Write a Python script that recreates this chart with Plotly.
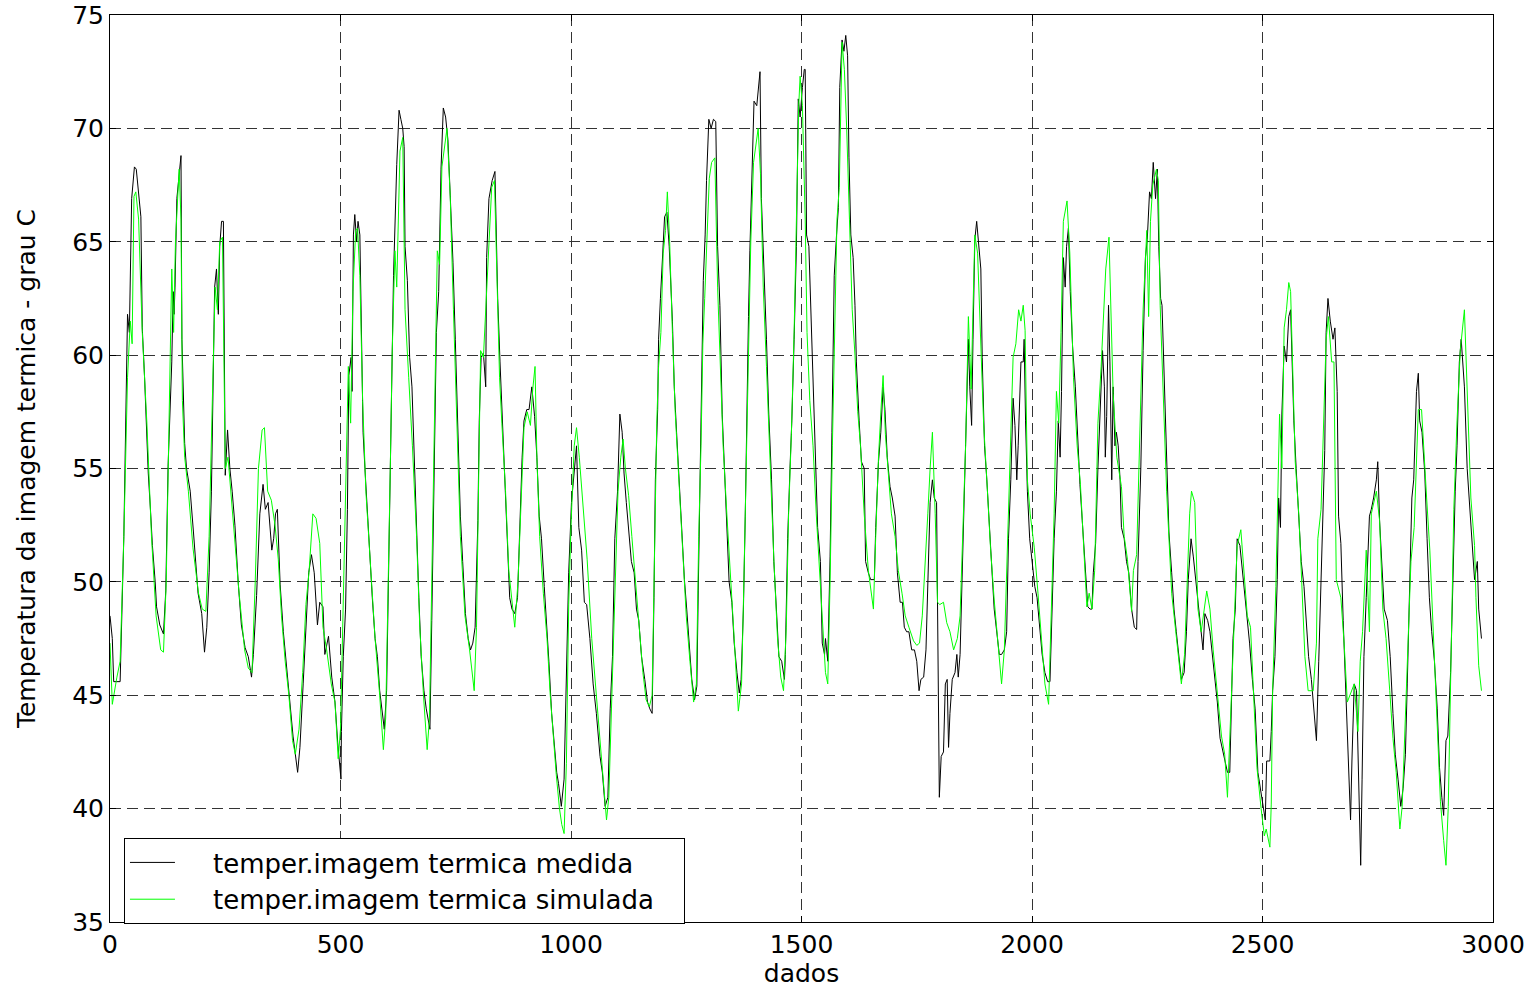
import plotly.graph_objects as go

# Values (sample index, temperature in grau C)
x_medida = [
    0, 5, 8, 22, 30, 35, 38, 42, 47, 53, 57, 67, 70, 75, 83, 88, 92, 98, 101, 108, 116, 121, 126, 134, 137, 139,
    141, 145, 149, 154, 156, 159, 162, 166, 174, 181, 186, 191, 199, 205, 210, 215, 220, 224, 227, 231, 235, 238,
    242, 246, 250, 255, 260, 265, 271, 278, 285, 293, 300, 307, 311, 318, 325, 332, 337, 343, 351, 355, 359, 363,
    369, 376, 383, 390, 397, 407, 412, 419, 427, 431, 437, 443, 450, 455, 462, 466, 474, 481, 488, 494, 501, 502,
    506, 511, 515, 518, 523, 525, 528, 531, 535, 538, 542, 546, 549, 553, 560, 564, 569, 575, 580, 585, 589, 595,
    600, 604, 607, 611, 615, 622, 627, 631, 635, 638, 640, 645, 650, 655, 659, 664, 670, 675, 681, 686, 694, 698,
    703, 708, 713, 718, 723, 728, 733, 739, 744, 749, 755, 760, 765, 771, 777, 782, 787, 792, 798, 801, 805, 810,
    815, 817, 822, 829, 835, 841, 846, 851, 857, 862, 867, 872, 878, 884, 889, 894, 898, 904, 909, 915, 921, 926,
    931, 936, 942, 947, 952, 958, 963, 969, 973, 979, 985, 990, 995, 1001, 1007, 1012, 1017, 1023, 1029, 1034,
    1041, 1048, 1055, 1063, 1068, 1074, 1080, 1085, 1090, 1095, 1101, 1106, 1111, 1115, 1120, 1125, 1131, 1137,
    1142, 1147, 1153, 1160, 1166, 1171, 1176, 1180, 1183, 1188, 1190, 1194, 1199, 1203, 1208, 1213, 1220, 1224,
    1229, 1234, 1240, 1246, 1251, 1256, 1262, 1268, 1273, 1276, 1280, 1283, 1287, 1291, 1294, 1299, 1304, 1309,
    1314, 1318, 1323, 1328, 1333, 1338, 1343, 1349, 1354, 1360, 1365, 1369, 1374, 1378, 1381, 1385, 1388, 1393,
    1397, 1403, 1406, 1410, 1413, 1419, 1424, 1429, 1435, 1440, 1446, 1451, 1457, 1463, 1465, 1470, 1475, 1479,
    1484, 1489, 1493, 1497, 1502, 1506, 1508, 1511, 1516, 1521, 1526, 1531, 1535, 1541, 1545, 1550, 1552, 1557,
    1562, 1566, 1571, 1576, 1580, 1583, 1588, 1592, 1596, 1600, 1603, 1607, 1612, 1616, 1619, 1625, 1630, 1636,
    1639, 1645, 1650, 1658, 1661, 1667, 1672, 1677, 1681, 1686, 1692, 1697, 1703, 1708, 1714, 1719, 1723, 1728,
    1733, 1739, 1745, 1750, 1755, 1759, 1765, 1770, 1774, 1779, 1784, 1788, 1793, 1797, 1799, 1803, 1808, 1812,
    1816, 1819, 1822, 1827, 1833, 1837, 1840, 1844, 1847, 1853, 1858, 1862, 1865, 1869, 1872, 1876, 1880, 1885,
    1889, 1892, 1897, 1902, 1907, 1912, 1918, 1923, 1929, 1934, 1940, 1945, 1949, 1954, 1959, 1963, 1967, 1970,
    1976, 1981, 1983, 1986, 1990, 1995, 2000, 2006, 2011, 2017, 2022, 2028, 2034, 2039, 2043, 2048, 2053, 2057,
    2061, 2064, 2068, 2072, 2075, 2079, 2083, 2088, 2094, 2099, 2104, 2109, 2115, 2121, 2126, 2130, 2133, 2138,
    2143, 2148, 2153, 2157, 2159, 2162, 2166, 2169, 2173, 2176, 2180, 2183, 2187, 2191, 2194, 2200, 2205, 2210,
    2216, 2222, 2227, 2230, 2236, 2241, 2246, 2250, 2255, 2259, 2263, 2268, 2272, 2275, 2279, 2282, 2287, 2292,
    2297, 2303, 2308, 2313, 2319, 2324, 2330, 2335, 2339, 2345, 2350, 2355, 2360, 2366, 2371, 2375, 2381, 2386,
    2391, 2397, 2402, 2408, 2413, 2418, 2424, 2429, 2433, 2436, 2441, 2445, 2451, 2456, 2462, 2467, 2472, 2478,
    2484, 2490, 2496, 2501, 2506, 2509, 2516, 2519, 2522, 2527, 2532, 2535, 2539, 2542, 2547, 2552, 2557, 2561,
    2564, 2568, 2573, 2579, 2584, 2590, 2595, 2600, 2606, 2612, 2617, 2622, 2627, 2631, 2635, 2638, 2642, 2647,
    2653, 2657, 2662, 2665, 2670, 2675, 2680, 2686, 2691, 2694, 2699, 2704, 2707, 2711, 2713, 2716, 2720, 2725,
    2729, 2732, 2736, 2741, 2747, 2750, 2754, 2759, 2764, 2771, 2777, 2783, 2788, 2794, 2800, 2805, 2810, 2814,
    2819, 2824, 2828, 2834, 2838, 2841, 2846, 2852, 2857, 2862, 2867, 2873, 2879, 2884, 2889, 2893, 2898, 2902,
    2908, 2913, 2918, 2922, 2927, 2931, 2934, 2938, 2944, 2949, 2954, 2960, 2966, 2969, 2975,
]
t_medida = [
    48.5, 47.5, 45.6, 45.6, 52, 59, 61.8, 61, 66.9, 68.3, 68.2, 66.1, 61.2, 59, 54.8, 53.1, 51.6, 50, 48.9, 48.1,
    47.7, 49.6, 55.1, 59.7, 62.8, 61.8, 63, 66.9, 67.7, 68.8, 60.7, 58.4, 56.1, 55, 54, 52.2, 50.9, 49.5, 48.6,
    46.9, 48, 50.4, 54, 59.7, 63, 63.8, 61.8, 64.8, 65.9, 65.9, 54.7, 56.7, 55, 54, 52.5, 50, 48.1, 47.1, 46.7,
    45.8, 46.8, 49.4, 53, 54.3, 53.2, 53.5, 51.4, 51.9, 53, 53.2, 49.9, 47.8, 46.3, 44.5, 43.2, 41.6, 42.7, 45.5,
    48.6, 50.4, 51.2, 50.4, 48.1, 49.1, 48.9, 46.8, 47.6, 45.8, 44.7, 42.9, 41.3, 43.4, 46.7, 48.8, 53.2, 59.1,
    59.9, 58.4, 65.3, 66.2, 65, 65.9, 65.3, 59.4, 56.6, 55, 52.4, 50.6, 49.3, 47.5, 46.7, 45.2, 44.4, 43.5, 45.2,
    50.1, 55, 58.6, 63.5, 68.4, 70.8, 70.4, 70, 69.2, 64.8, 63.3, 59.9, 58.6, 56, 53.2, 49.3, 46.7, 45.2, 44.4,
    43.5, 48.3, 55.3, 61, 62.8, 68.2, 70.9, 70.5, 69.5, 66.6, 64.1, 60.7, 56, 52.9, 50.9, 48.6, 47.5, 47, 47.3,
    48, 52.7, 57.1, 59.9, 60.1, 58.6, 64.3, 66.9, 67.7, 68.1, 62.5, 59.7, 57.1, 54.5, 51.9, 49.3, 48.8, 48.6,
    49.3, 52.9, 55.5, 57.1, 57.6, 57.6, 58.6, 57.3, 55.5, 52.9, 51.9, 49.8, 48.3, 46.5, 44.2, 42.9, 41.6, 41.1,
    40.1, 41.3, 45.5, 50.4, 53.5, 55, 56, 52.4, 51.4, 49.1, 49, 47.5, 45.5, 44.2, 42.3, 41.6, 40.1, 40.5, 44.4,
    46.7, 51.9, 54, 57.4, 56.6, 54.8, 53.5, 52.2, 50.9, 50.4, 48.8, 48.3, 46.7, 45.7, 44.7, 44.4, 44.2, 49.3,
    54.5, 57.6, 60.7, 62.5, 64.8, 66.1, 66.3, 64.8, 61.5, 58.6, 56.6, 54.5, 52.4, 50.1, 48.8, 47.3, 45.7, 44.8,
    45.4, 49.6, 54.5, 57.6, 63.3, 65.3, 67.7, 70.4, 70, 70.4, 70.3, 64.8, 62.2, 57.4, 55, 52.4, 50, 49.1, 47.3,
    46, 45.1, 45.7, 48.8, 52.9, 57.6, 61.7, 64.6, 67.7, 71.2, 71, 71.8, 72.5, 66.9, 63.8, 60.7, 57.4, 54.5, 50.9,
    48.3, 46.7, 46.5, 45.7, 46.8, 51.9, 55, 57.1, 60.7, 64.8, 71.3, 70.5, 71.8, 72.6, 72.6, 65.3, 64.8, 61.5,
    58.4, 55, 52.4, 50.9, 47.3, 46.8, 47.5, 46.5, 51.1, 56.6, 63.5, 65.3, 66.5, 71.8, 73.9, 73.4, 74.1, 73.2,
    68.7, 65.3, 64.3, 62.2, 59.7, 57.1, 55.3, 55, 50.9, 50.4, 50.1, 50.1, 52.4, 55.3, 56.6, 58.6, 57.6, 55.5,
    54.2, 53.7, 52.9, 50.4, 49.1, 49.1, 48, 47.8, 47.8, 47, 47, 46.5, 45.2, 45.7, 45.8, 47, 49.8, 53.5, 54.5,
    53.7, 53.5, 45.2, 40.5, 42.3, 42.5, 45.5, 45.7, 42.7, 44.2, 45.7, 46, 46.8, 45.8, 46.8, 49.3, 53.2, 57.6,
    60.7, 58.6, 56.9, 60.7, 65.1, 65.9, 64.8, 63.8, 59.9, 56, 54.5, 52.4, 50.9, 48.8, 47.8, 46.8, 46.8, 47, 47.8,
    51.9, 54.5, 58.1, 56.9, 54.5, 56, 59.7, 59.7, 60.7, 57.1, 54, 51.9, 50.9, 49.8, 49.3, 47.8, 46.8, 46, 45.6,
    45.6, 48.3, 51.9, 54, 57.1, 55.5, 58.4, 64.3, 63, 64.8, 65.6, 62.8, 60.4, 58.6, 56.3, 54.3, 52.7, 50.9, 48.9,
    48.8, 48.8, 50.4, 51.7, 55, 58.1, 60.2, 58.6, 55.5, 57.3, 62.2, 59.7, 54.5, 58.6, 56, 56.6, 56, 54.5, 52.4,
    51.9, 50.9, 50.4, 48.8, 48, 47.9, 50.9, 55, 60.2, 64.3, 65.1, 67.2, 66.9, 68.5, 66.9, 68.2, 64.8, 62.5, 62.2,
    58.6, 55.8, 52.2, 50.4, 48.8, 47.8, 46.8, 45.7, 46, 47.8, 50.1, 51.9, 51.1, 50.1, 48.9, 47.8, 47, 48.6, 48.3,
    47.8, 46.8, 45.7, 44.7, 43.1, 42.6, 42.1, 41.6, 41.6, 45.5, 47.5, 48.8, 51.9, 51.6, 50.6, 49.6, 48.6, 47.3,
    45.7, 44.4, 41.6, 40.8, 40.2, 39.5, 42.1, 42.1, 43.4, 45.2, 46.7, 50.1, 53.7, 52.4, 57.4, 60.4, 59.7, 61.7,
    62, 59.9, 57.1, 55, 52.9, 50.9, 49.8, 48, 46.7, 45.7, 44.4, 43, 46.5, 49.8, 53.2, 55.8, 61, 62.5, 61.5, 60.7,
    61.2, 58.4, 52.9, 51.7, 48.3, 45.5, 42.6, 39.5, 42.1, 45.5, 45.2, 42.6, 38, 37.5, 41.3, 46.7, 49.3, 51.9,
    52.9, 53.2, 53.7, 54.5, 55.3, 52.7, 50.9, 48.8, 48.3, 46.7, 44.2, 42.4, 41.3, 40.1, 40.9, 42.4, 45.5, 49.3,
    53.7, 54.5, 58.4, 59.2, 57.1, 56.6, 54.8, 51.9, 49.3, 47.8, 46.5, 44.4, 41.8, 40.5, 39.7, 43, 43.2, 46, 50.4,
    54, 56, 59.7, 60.7, 59.7, 58.6, 55, 53.5, 51.9, 50.1, 50.9, 48.8, 47.5,
]

x_simulada = [
    0, 5, 15, 22, 30, 38, 44, 48, 52, 56, 62, 70, 80, 90, 100, 110, 116, 122, 128, 134, 138, 142, 150, 154, 157,
    162, 170, 180, 192, 200, 208, 215, 222, 228, 233, 238, 244, 250, 256, 262, 270, 280, 292, 300, 308, 315, 322,
    330, 335, 342, 350, 358, 365, 372, 380, 388, 396, 402, 410, 418, 425, 432, 440, 447, 455, 462, 470, 480, 488,
    495, 500, 505, 509, 512, 517, 522, 527, 533, 537, 542, 548, 555, 565, 575, 585, 593, 598, 603, 608, 612, 618,
    622, 629, 635, 640, 648, 656, 665, 672, 680, 688, 693, 698, 704, 710, 715, 720, 731, 738, 745, 752, 760, 770,
    780, 790, 795, 800, 804, 810, 815, 822, 828, 834, 840, 845, 850, 858, 865, 872, 878, 885, 892, 898, 905, 912,
    917, 922, 926, 932, 940, 948, 955, 962, 968, 975, 980, 985, 990, 995, 1000, 1007, 1012, 1018, 1025, 1035,
    1045, 1055, 1065, 1072, 1077, 1082, 1088, 1095, 1102, 1108, 1113, 1118, 1125, 1132, 1140, 1148, 1156, 1163,
    1170, 1176, 1181, 1186, 1190, 1195, 1200, 1205, 1209, 1214, 1220, 1226, 1234, 1242, 1250, 1258, 1266, 1272,
    1277, 1282, 1286, 1290, 1295, 1300, 1305, 1312, 1318, 1324, 1330, 1338, 1346, 1354, 1363, 1370, 1375, 1380,
    1385, 1390, 1396, 1402, 1406, 1411, 1417, 1424, 1432, 1440, 1448, 1455, 1461, 1467, 1472, 1478, 1484, 1489,
    1494, 1497, 1502, 1508, 1512, 1518, 1525, 1532, 1540, 1547, 1552, 1557, 1562, 1567, 1572, 1577, 1582, 1586,
    1588, 1593, 1598, 1604, 1610, 1616, 1622, 1628, 1636, 1645, 1651, 1656, 1661, 1667, 1673, 1677, 1682, 1688,
    1695, 1703, 1710, 1718, 1725, 1733, 1743, 1750, 1756, 1762, 1768, 1774, 1779, 1784, 1790, 1795, 1800, 1808,
    1815, 1822, 1830, 1838, 1844, 1850, 1856, 1862, 1868, 1872, 1876, 1882, 1888, 1895, 1902, 1910, 1918, 1925,
    1934, 1940, 1946, 1953, 1959, 1965, 1971, 1976, 1981, 1985, 1990, 1996, 2005, 2013, 2020, 2028, 2036, 2043,
    2048, 2053, 2058, 2063, 2068, 2076, 2082, 2090, 2098, 2105, 2112, 2119, 2124, 2130, 2136, 2143, 2150, 2160,
    2167, 2171, 2176, 2184, 2194, 2200, 2207, 2216, 2220, 2227, 2234, 2241, 2249, 2253, 2257, 2262, 2270, 2274,
    2278, 2285, 2292, 2303, 2313, 2324, 2331, 2337, 2342, 2346, 2353, 2360, 2367, 2379, 2386, 2393, 2400, 2411,
    2418, 2424, 2433, 2439, 2445, 2453, 2460, 2467, 2474, 2481, 2488, 2497, 2504, 2508, 2516, 2519, 2522, 2529,
    2537, 2542, 2547, 2552, 2557, 2561, 2566, 2571, 2579, 2584, 2592, 2599, 2610, 2617, 2620, 2627, 2634, 2638,
    2643, 2650, 2655, 2660, 2670, 2677, 2684, 2693, 2699, 2707, 2712, 2717, 2725, 2732, 2736, 2747, 2754, 2761,
    2768, 2776, 2783, 2790, 2798, 2803, 2808, 2815, 2822, 2829, 2838, 2845, 2849, 2856, 2863, 2871, 2878, 2886,
    2893, 2898, 2903, 2908, 2915, 2922, 2929, 2938, 2945, 2952, 2960, 2963, 2969, 2975,
]
t_simulada = [
    47.3, 44.6, 45.8, 46.5, 52, 59, 61.5, 60.5, 67, 67.2, 66, 61, 57, 52, 48.5, 47, 46.9, 50, 57, 63.8, 61, 65,
    68.2, 66, 58, 55.5, 54, 51.5, 49.5, 48.8, 48.7, 52, 58, 63, 62, 65, 65.2, 55, 55.5, 54, 52, 49.5, 47, 46.2,
    46, 50, 55, 56.7, 56.8, 54, 53.6, 52.5, 51, 48.5, 46.5, 45, 43, 42.4, 43.5, 46, 49, 50.5, 53, 52.8, 51.7, 48,
    47, 45.5, 44.7, 42.2, 43.5, 48, 51.7, 55, 59.5, 57, 62.8, 65.5, 65.6, 63.5, 58, 54, 50.5, 47.5, 45, 42.6, 44,
    49, 55, 60, 64.6, 63, 69, 69.6, 62, 59, 56, 52, 48, 45, 42.6, 44, 50, 58, 64.6, 64, 68.3, 70, 67, 62, 57, 52,
    48.5, 47, 45.2, 48, 55, 60.2, 59.9, 62, 65, 67.4, 67.7, 62.5, 59, 57, 54, 50.5, 49, 48, 50, 54, 56.8, 57.5,
    56.9, 58.5, 59.5, 55.5, 52, 49.5, 47.5, 45, 43, 41.5, 40, 39.3, 38.9, 42, 49, 52.5, 56, 56.8, 55.5, 53.5, 51,
    47.5, 45, 42.5, 40.5, 39.5, 40.5, 44.5, 50, 54, 55.5, 56.3, 55, 53.8, 52, 50, 47.8, 46, 44.8, 44.5, 45, 51,
    57, 59.5, 61, 64.5, 65.5, 67.2, 65, 61, 57.5, 54.5, 51.5, 48.5, 46.5, 44.7, 45.5, 52, 56, 60.5, 62.5, 65.5,
    67.8, 68.5, 68.7, 63, 59, 56, 53, 50, 47.5, 44.3, 45.5, 50, 55.5, 60, 65, 68.5, 69.5, 70, 68, 63, 59.5, 55,
    51, 47.5, 45.8, 45.2, 48, 53, 56.5, 61, 66, 71, 72.3, 71, 66, 61, 58, 56, 53, 50, 47.7, 46, 45.5, 50, 56, 61,
    66, 67.4, 72, 73.8, 72.6, 70, 66, 62, 60, 57.5, 56, 53, 50.5, 49.5, 48.8, 52, 55.5, 57.8, 59.1, 56.5, 55, 53,
    52, 50.5, 49.5, 48.5, 48, 47.4, 47.2, 47.3, 48.5, 50.5, 53, 55, 56.6, 53, 49.1, 49, 49.1, 48.2, 47.8, 47,
    47.5, 48.5, 52, 56, 61.7, 58.5, 62, 65.3, 64.5, 61, 57, 54.5, 51.5, 49.2, 47.5, 45.5, 47, 51, 56, 59.9, 60.5,
    62, 61.5, 62.2, 61.1, 54.5, 53, 51.5, 49.5, 47.5, 45.5, 44.6, 49, 53, 58.4, 57, 61, 65.9, 66.8, 64.5, 59, 56,
    54.3, 51.5, 48.9, 49.5, 48.8, 50.5, 57, 59.5, 63.8, 65.2, 62, 58.3, 55.5, 54.2, 52, 51, 48.7, 50.5, 51.2,
    56.5, 62, 65.5, 61.7, 65.9, 67.5, 68.2, 67.7, 62.2, 58.5, 54, 49.5, 47.5, 45.5, 46.8, 50.1, 53, 54, 53.5,
    48.8, 47.8, 49.6, 48.8, 47, 45.5, 43.2, 42.4, 40.5, 45.2, 48.8, 51.6, 52.3, 50.5, 48.5, 48, 44.6, 41.8, 40,
    38.8, 39.1, 38.3, 40.2, 45.2, 49.8, 57.4, 55, 61.2, 62, 63.2, 62.8, 58.6, 55.3, 52.9, 50.6, 46.7, 45.2, 45.2,
    47.3, 51.9, 53.2, 57.4, 60.7, 61.7, 59.7, 59.7, 50.1, 49.3, 47.3, 44.7, 45.2, 45.5, 43.4, 46.5, 47.8, 51.4,
    47.8, 53, 54, 52.7, 48.8, 47.5, 45.2, 43.1, 41.6, 39.1, 40.1, 43.2, 47.3, 50.9, 52.4, 57.6, 57.6, 56, 53.7,
    51.4, 47.5, 43.7, 40.3, 38.6, 37.5, 40.1, 45.7, 53.2, 57.1, 60.2, 62, 57.6, 53.7, 51.6, 49.3, 46.3, 45.2,
]

x_ticks = [0, 500, 1000, 1500, 2000, 2500, 3000]
y_ticks = [35, 40, 45, 50, 55, 60, 65, 70, 75]

pad_left = "\u00a0" * 4
pad_right = "\u00a0" * 3

fig = go.Figure()
fig.add_trace(go.Scatter(x=x_medida, y=t_medida, mode="lines",
                         name=pad_left + "temper.imagem termica medida" + pad_right,
                         line=dict(color="black", width=1)))
fig.add_trace(go.Scatter(x=x_simulada, y=t_simulada, mode="lines",
                         name=pad_left + "temper.imagem termica simulada" + pad_right,
                         line=dict(color="#00ff00", width=1)))

axis_style = dict(
    showline=True, linecolor="black", linewidth=1, mirror="ticks",
    ticks="inside", ticklen=6, tickcolor="black",
    showgrid=True, gridcolor="#333333", gridwidth=1, griddash="11px,6px",
    zeroline=False, tickfont=dict(size=25, color="black"), automargin=False,
    ticklabeloverflow="allow",
)

fig.update_xaxes(range=[0, 3000], tickvals=x_ticks, title=dict(text="dados", font=dict(size=25), standoff=2),
                 **axis_style)
fig.update_yaxes(range=[35, 75], tickvals=y_ticks,
                 title=dict(text="Temperatura da imagem termica - grau C", font=dict(size=25), standoff=29),
                 **axis_style)

fig.update_layout(
    width=1534, height=988,
    margin=dict(l=110, r=41, t=15, b=66),
    paper_bgcolor="white", plot_bgcolor="white",
    font=dict(family="DejaVu Sans, Arial, sans-serif", color="black"),
    legend=dict(x=0.0101, y=0.0926, xanchor="left", yanchor="top",
                bgcolor="white", bordercolor="black", borderwidth=1,
                font=dict(size=26), itemwidth=45, tracegroupgap=0),
    showlegend=True,
)

# drop the default page margin so the figure sits at the window corner
fig.write_html("out.html", config={"displayModeBar": False},
               post_script="document.body.style.margin='0';")
